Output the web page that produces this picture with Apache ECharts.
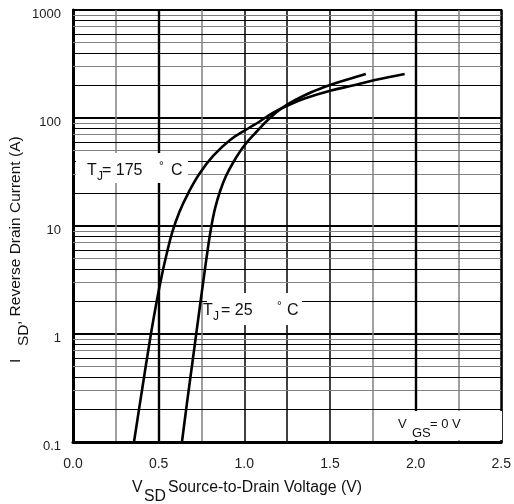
<!DOCTYPE html>
<html>
<head>
<meta charset="utf-8">
<script src="https://cdn.jsdelivr.net/npm/echarts@6/dist/echarts.min.js"></script>
<style>
html,body{margin:0;padding:0;background:#fff;}
#chart{width:514px;height:504px;}
</style>
</head>
<body>
<div id="chart"></div>
<script>
// ---- data ----
const vsd175 = [0.356,0.403,0.452,0.490,0.519,0.548,0.580,0.621,0.673,0.737,0.818,0.917,1.027,1.085,1.162,1.259,1.356,1.501,1.646,1.762,1.936];
const isd175 = [0.1,0.303,0.938,2.06,3.52,5.62,8.80,13.5,20.2,30.3,44.5,62.6,80.8,91.8,110.5,131.9,152.2,178.9,202,224.8,255.5];
const vsd25 = [0.636,0.667,0.699,0.731,0.760,0.786,0.806,0.830,0.859,0.893,0.940,0.998,1.067,1.143,1.220,1.298,1.394,1.501,1.607,1.709];
const isd25 = [0.1,0.240,0.574,1.377,3.03,6.0,9.58,14.7,21.1,29.0,40.0,55.1,73.4,97.9,123.7,146.8,174.1,202.1,228.2,255.5];

const xTickValues = [0.0,0.5,1.0,1.5,2.0,2.5];
const xTickLabels = ['0.0','0.5','1.0','1.5','2.0','2.5'];
const yTickValues = [0.1,1,10,100,1000];
const yTickLabels = ['0.1','1','10','100','1000'];
const decades = [0.1,1,10,100];
const minorMultipliers = [2,3,4,5,6,7,8,9];
const heavyX = [0.5,2.0];

// ---- build ----
const pairs = (xs, ys) => xs.map((x,i)=>[x, ys[i]]);
const minorColor = m => (m % 2 === 0 ? '#000' : '#808080');
const gridLines = [];
decades.forEach(d => minorMultipliers.forEach(m => {
  gridLines.push({yAxis: d*m, lineStyle:{color:minorColor(m), width:1.2, type:'solid'}});
}));
heavyX.forEach(v => gridLines.push({xAxis: v, lineStyle:{color:'#000', width:2.4, type:'solid'}}));

const vColors = ['#000','#808080','#000','#808080','#000','#000','#000','#808080','#000','#808080','#000'];

const chart = echarts.init(document.getElementById('chart'), null, {renderer:'canvas'});
const F = 'Liberation Sans, Arial, sans-serif';

function txt(x, y, s, size){
  return {type:'text', x:x, y:y, z:20,
    style:{text:s, font: size+'px '+F, fill:'#111', align:'left', verticalAlign:'middle'}};
}
function rtxt(x, y, s, size){
  return {type:'text', x:x, y:y, z:20, rotation: Math.PI/2,
    style:{text:s, font: size+'px '+F, fill:'#111', align:'left', verticalAlign:'middle'}};
}

chart.setOption({
  animation:false,
  backgroundColor:'#fff',
  grid:{left:73, right:10, top:10, bottom:62, show:true, borderColor:'#000', borderWidth:2, backgroundColor:'transparent'},
  xAxis:{
    type:'value', min:0, max:2.5, interval:0.25,
    axisLine:{show:true, onZero:false, lineStyle:{color:'#000', width:3}},
    axisTick:{show:false},
    axisLabel:{fontFamily:F, fontSize:14, color:'#222', margin:15,
      formatter: v => { const i = xTickValues.findIndex(t=>Math.abs(t-v)<1e-6); return i>=0 ? xTickLabels[i] : ''; }},
    splitLine:{show:true, lineStyle:{color:vColors, width:1.5}}
  },
  yAxis:{
    type:'log', logBase:10, min:0.1, max:1000,
    axisLine:{show:true, lineStyle:{color:'#000', width:3}},
    axisTick:{show:false},
    axisLabel:{fontFamily:F, fontSize:13, color:'#222', margin:12, verticalAlign:'top', lineHeight:8,
      formatter: v => { const i = yTickValues.findIndex(t=>Math.abs(t-v)/t<1e-4); return i>=0 ? yTickLabels[i] : ''; }},
    splitLine:{show:true, lineStyle:{color:'#000', width:2.2}}
  },
  series:[
    {type:'line', name:'grid', z:1, data:[[0,1]], showSymbol:false, symbol:'none', silent:true,
      lineStyle:{opacity:0},
      markLine:{silent:true, symbol:['none','none'], label:{show:false}, animation:false, data: gridLines}},
    {type:'line', name:'TJ175', z:5, data:pairs(vsd175, isd175), smooth:0.4, showSymbol:false, symbol:'none',
      lineStyle:{color:'#000', width:2.6}},
    {type:'line', name:'TJ25', z:5, data:pairs(vsd25, isd25), smooth:0.4, showSymbol:false, symbol:'none',
      lineStyle:{color:'#000', width:2.6}}
  ],
  graphic:[
    // annotation boxes
    {type:'rect', z:15, shape:{x:76, y:153, width:112, height:30}, style:{fill:'#fff'}},
    {type:'rect', z:15, shape:{x:207, y:293, width:95, height:32}, style:{fill:'#fff'}},
    {type:'rect', z:15, shape:{x:385, y:411, width:117, height:29}, style:{fill:'#fff'}},
    // T_J = 175 °C
    txt(87, 171, 'T', 16),
    txt(97, 177, 'J', 12),
    txt(102, 171, '= 175', 16),
    txt(159, 167, '°', 12),
    txt(171, 171, 'C', 16),
    // T_J = 25 °C
    txt(203, 311, 'T', 16),
    txt(213, 317, 'J', 12),
    txt(221, 311, '= 25', 16),
    txt(277, 307, '°', 12),
    txt(287, 311, 'C', 16),
    // V_GS = 0 V
    txt(398, 424, 'V', 13),
    txt(412, 433, 'GS', 13),
    txt(430, 424, '= 0 V', 13),
    // x-axis title
    txt(132, 488, 'V', 15.8),
    txt(144, 497, 'SD', 15.8),
    txt(168, 488, 'Source-to-Drain Voltage (V)', 15.8),
    // y-axis title (rotated)
    rtxt(16, 363, 'I', 15.5),
    rtxt(24, 346, 'SD', 15.5),
    rtxt(16, 325, ', Reverse Drain Current (A)', 15.5)
  ]
});
</script>
</body>
</html>
